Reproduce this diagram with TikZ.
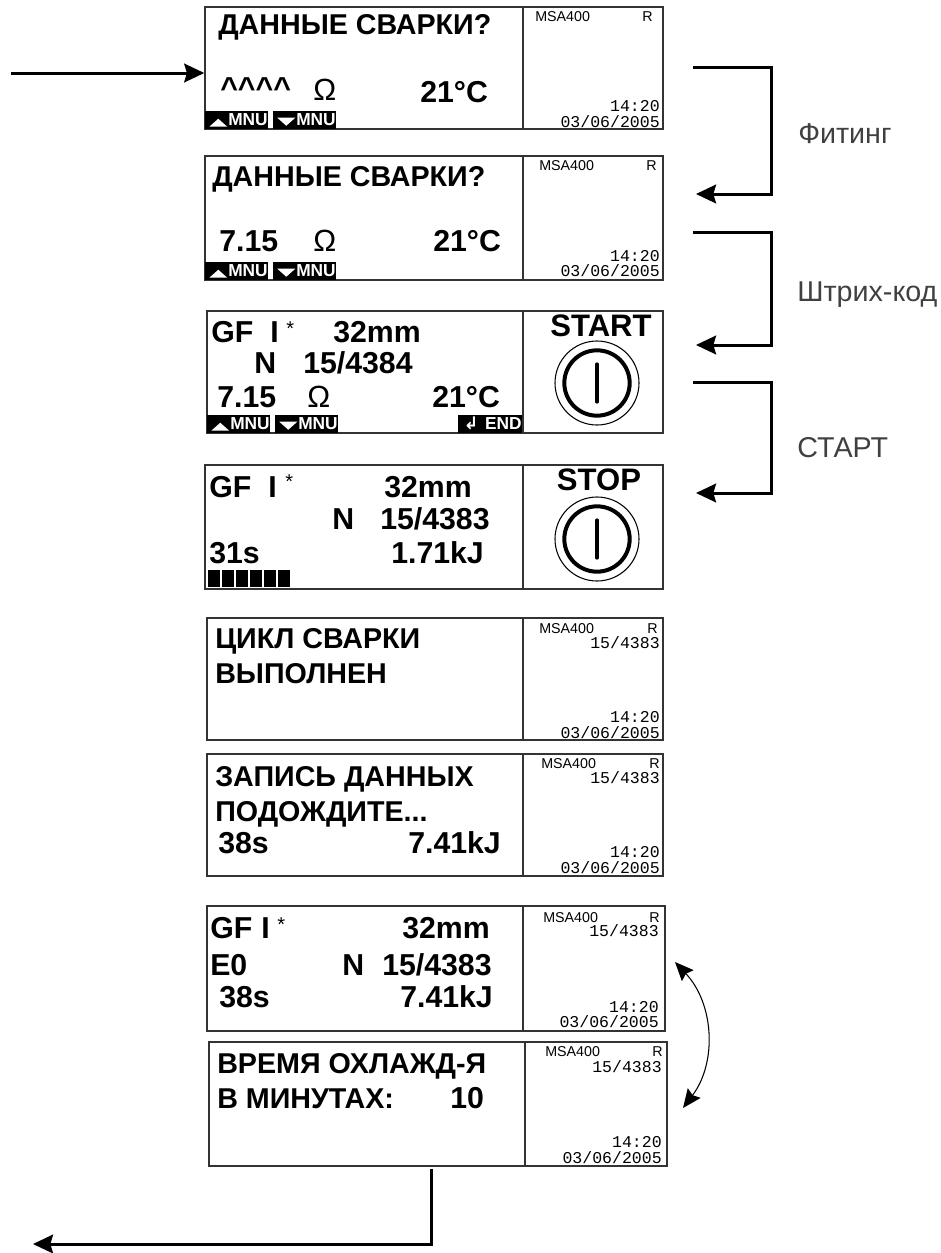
\documentclass[tikz,border=0pt]{standalone}
\usepackage{fontspec}
\setmainfont{Liberation Sans}
\setmonofont{Liberation Mono}
\newfontfamily\symbfont{DejaVu Sans}
\usetikzlibrary{arrows.meta,fit,positioning}
\colorlet{colorBox}{black!80}
\colorlet{colorLbl}{black!75}
\tikzset{
   screen/.style={draw=colorBox,line width=1.1pt,inner sep=0pt,fit={#1}},
   divider/.style={draw=colorBox,line width=1.1pt},
   big/.style={anchor=base west,inner sep=0pt,font=\fontsize{21.5}{25}\selectfont\bfseries},
   val/.style={anchor=base west,inner sep=0pt,font=\fontsize{22.7}{26}\selectfont\bfseries},
   ohm/.style={anchor=base west,inner sep=0pt,font=\fontsize{23}{26}\selectfont},
   star/.style={anchor=base west,inner sep=0pt,font=\fontsize{15}{18}\selectfont},
   brand/.style={anchor=base west,inner sep=0pt,font=\fontsize{10.7}{12}\selectfont},
   brandr/.style={anchor=base east,inner sep=0pt,font=\fontsize{10.7}{12}\selectfont},
   clock/.style={anchor=base east,inner sep=0pt,font=\fontsize{12.4}{14}\selectfont\ttfamily},
   softkey/.style={anchor=south west,fill=black,text=white,inner sep=0pt,minimum width=47.25pt,minimum height=13.5pt,
                   text width=46.5pt,align=right,font=\fontsize{13}{14}\selectfont\bfseries},
   softup/.style={softkey,path picture={\fill[white] (path picture bounding box.south west) ++(4,-2) -- ++(18,0) -- ++(-9,-8) -- cycle;}},
   softdn/.style={softkey,path picture={\fill[white] (path picture bounding box.south west) ++(4,-11) -- ++(18,0) -- ++(-9,8) -- cycle;}},
   block/.style={anchor=south west,fill=black,inner sep=0pt,minimum width=9pt,minimum height=12.75pt},
   btnlabel/.style={anchor=base,inner sep=0pt,font=\fontsize{23.3}{26}\selectfont\bfseries},
   btnout/.style={draw,circle,line width=0.8pt,inner sep=0pt,minimum size=63pt},
   btnin/.style={draw,circle,line width=3pt,inner sep=0pt,minimum size=49pt},
   btnbar/.style={line width=3pt,line cap=round},
   side/.style={anchor=base west,inner sep=0pt,text=colorLbl,font=\fontsize{21.5}{26}\selectfont},
   flow/.style={-{Stealth[length=15pt,width=14pt,inset=2pt]},line width=2.25pt},
   swap/.style={{Stealth[length=14pt,width=12pt,inset=2pt]}-{Stealth[length=14pt,width=12pt,inset=2pt]},line width=0.8pt},
}

\begin{document}
\begin{tikzpicture}[x=0.75pt,y=-0.75pt]
\useasboundingbox (0,0) rectangle (941,1253);

% ------------------------------------------------------------
% Screen 1
% ------------------------------------------------------------
\node[screen={(205,7)(663,129)}] (scr1) {};
\draw[divider] (523,0 |- scr1.north) -- (523,0 |- scr1.south);
\node[big] (a1) at (218,34) {ДАННЫЕ СВАРКИ?};
\node[val] (a2) at (220,98) {\^{}\^{}\^{}\^{}};
\node[ohm] (a3) at (313,100) {Ω};
\node[val] (a4) at (420,102) {21°C};
\node[softup] (a5) at (205,129) {MNU};
\node[softdn] (a6) at (273,129) {MNU};
\node[brand] (a7) at (535,21) {MSA400};
\node[brandr] (a8) at (653,21) {R};
\node[clock] (a9) at (660,111) {14:20};
\node[clock] (a10) at (660,127) {03/06/2005};

% ------------------------------------------------------------
% Screen 2
% ------------------------------------------------------------
\node[screen={(205,156)(663,280)}] (scr2) {};
\draw[divider] (523,0 |- scr2.north) -- (523,0 |- scr2.south);
\node[big] (b1) at (212,186) {ДАННЫЕ СВАРКИ?};
\node[val] (b2) at (219,251) {7.15};
\node[ohm] (b3) at (313,251) {Ω};
\node[val] (b4) at (433,251) {21°C};
\node[softup] (b5) at (205,280) {MNU};
\node[softdn] (b6) at (273,280) {MNU};
\node[brand] (b7) at (539,170) {MSA400};
\node[brandr] (b8) at (657,170) {R};
\node[clock] (b9) at (660,261) {14:20};
\node[clock] (b10) at (660,276) {03/06/2005};

% ------------------------------------------------------------
% Screen 3
% ------------------------------------------------------------
\node[screen={(207,311)(663,433)}] (scr3) {};
\draw[divider] (523,0 |- scr3.north) -- (523,0 |- scr3.south);
\node[val] (c1) at (211,342) {GF};
\node[val] (c2) at (270,342) {I};
\node[star] (c3) at (286,335) {*};
\node[val] (c4) at (333,342) {32mm};
\node[val] (c5) at (254,373) {N};
\node[val] (c6) at (303,373) {15/4384};
\node[val] (c7) at (217,407) {7.15};
\node[ohm] (c8) at (307,407) {Ω};
\node[val] (c9) at (432,407) {21°C};
\node[softup] (c10) at (207,433) {MNU};
\node[softdn] (c11) at (275,433) {MNU};
\node[softkey,minimum width=48pt,text width=47pt] (c12) at (458,433) {{\symbfont\char"21B2}\hspace{5pt}END};
\node[btnlabel] (c13) at (601,336) {START};
\node[btnout] (c14) at (597,383) {};
\node[btnin] (c15) at (597,383) {};
\draw[btnbar] ([yshift=14pt]c15.center) -- ([yshift=-14pt]c15.center);

% ------------------------------------------------------------
% Screen 4
% ------------------------------------------------------------
\node[screen={(205,465)(663,589)}] (scr4) {};
\draw[divider] (523,0 |- scr4.north) -- (523,0 |- scr4.south);
\node[val] (d1) at (209,497) {GF};
\node[val] (d2) at (268,497) {I};
\node[star] (d3) at (285,488) {*};
\node[val] (d4) at (384,497) {32mm};
\node[val] (d5) at (332,529) {N};
\node[val] (d6) at (380,529) {15/4383};
\node[val] (d7) at (209,563) {31s};
\node[val] (d8) at (391,563) {1.71kJ};
\node[block] (d9) at (208,587) {};
\node[block] (d10) at (222,587) {};
\node[block] (d11) at (236,587) {};
\node[block] (d12) at (250,587) {};
\node[block] (d13) at (264,587) {};
\node[block] (d14) at (278,587) {};
\node[btnlabel] (d15) at (599,490) {STOP};
\node[btnout] (d16) at (597,539) {};
\node[btnin] (d17) at (597,539) {};
\draw[btnbar] ([yshift=14pt]d17.center) -- ([yshift=-14pt]d17.center);

% ------------------------------------------------------------
% Screen 5
% ------------------------------------------------------------
\node[screen={(207,618)(663,740)}] (scr5) {};
\draw[divider] (523,0 |- scr5.north) -- (523,0 |- scr5.south);
\node[big] (e1) at (215,648) {ЦИКЛ СВАРКИ};
\node[big] (e2) at (215,683) {ВЫПОЛНЕН};
\node[brand] (e3) at (539,633) {MSA400};
\node[brandr] (e4) at (658,633) {R};
\node[clock] (e5) at (660,648) {15/4383};
\node[clock] (e6) at (660,722) {14:20};
\node[clock] (e7) at (660,738) {03/06/2005};

% ------------------------------------------------------------
% Screen 6
% ------------------------------------------------------------
\node[screen={(207,754)(663,876)}] (scr6) {};
\draw[divider] (523,0 |- scr6.north) -- (523,0 |- scr6.south);
\node[big] (f1) at (215,786) {ЗАПИСЬ ДАННЫХ};
\node[big] (f2) at (215,821) {ПОДОЖДИТЕ...};
\node[val] (f3) at (218,853) {38s};
\node[val] (f4) at (408,853) {7.41kJ};
\node[brand] (f5) at (541,768) {MSA400};
\node[brandr] (f6) at (660,768) {R};
\node[clock] (f7) at (660,783) {15/4383};
\node[clock] (f8) at (660,857) {14:20};
\node[clock] (f9) at (660,873) {03/06/2005};

% ------------------------------------------------------------
% Screen 7
% ------------------------------------------------------------
\node[screen={(207,906)(665,1031)}] (scr7) {};
\draw[divider] (523,0 |- scr7.north) -- (523,0 |- scr7.south);
\node[val] (g1) at (210,938) {GF};
\node[val] (g2) at (261,938) {I};
\node[star] (g3) at (277,931) {*};
\node[val] (g4) at (402,938) {32mm};
\node[val] (g5) at (210,975) {E0};
\node[val] (g6) at (342,975) {N};
\node[val] (g7) at (382,975) {15/4383};
\node[val] (g8) at (219,1007) {38s};
\node[val] (g9) at (400,1007) {7.41kJ};
\node[brand] (g10) at (543,922) {MSA400};
\node[brandr] (g11) at (660,922) {R};
\node[clock] (g12) at (659,936) {15/4383};
\node[clock] (g13) at (659,1012) {14:20};
\node[clock] (g14) at (659,1027) {03/06/2005};

% ------------------------------------------------------------
% Screen 8
% ------------------------------------------------------------
\node[screen={(209,1042)(667,1166)}] (scr8) {};
\draw[divider] (525,0 |- scr8.north) -- (525,0 |- scr8.south);
\node[big] (h1) at (217,1073) {ВРЕМЯ ОХЛАЖД-Я};
\node[big] (h2) at (217,1108) {В МИНУТАХ:};
\node[val] (h3) at (450,1108) {10};
\node[brand] (h4) at (545,1056) {MSA400};
\node[brandr] (h5) at (663,1056) {R};
\node[clock] (h6) at (662,1072) {15/4383};
\node[clock] (h7) at (662,1147) {14:20};
\node[clock] (h8) at (662,1163) {03/06/2005};

% ------------------------------------------------------------
% Side labels and arrows
% ------------------------------------------------------------
\node[side] (fit) at (798,143) {Фитинг};
\node[side] (bar) at (797,301) {Штрих-код};
\node[side] (go) at (797,457) {СТАРТ};

\coordinate (in) at (11,73);
\coordinate (fit1) at (693,67);
\coordinate (fit2) at (696,194);
\coordinate (bar1) at (693,232);
\coordinate (bar2) at (696,345);
\coordinate (go1) at (693,382);
\coordinate (go2) at (696,493);
\coordinate (out1) at (431,1169);
\coordinate (out2) at (33,1244);
\coordinate (swap1) at (675,962);
\coordinate (swap2) at (683,1108);

\draw[flow] (in) -- (in -| scr1.west);
\draw[flow] (fit1) -- (771,67) -- (771,194) -- (fit2);
\draw[flow] (bar1) -- (771,232) -- (771,345) -- (bar2);
\draw[flow] (go1) -- (771,382) -- (771,493) -- (go2);
\draw[flow] (out1) |- (out2);
\draw[swap, bend left=40] (swap1) to (swap2);
\end{tikzpicture}
\end{document}
